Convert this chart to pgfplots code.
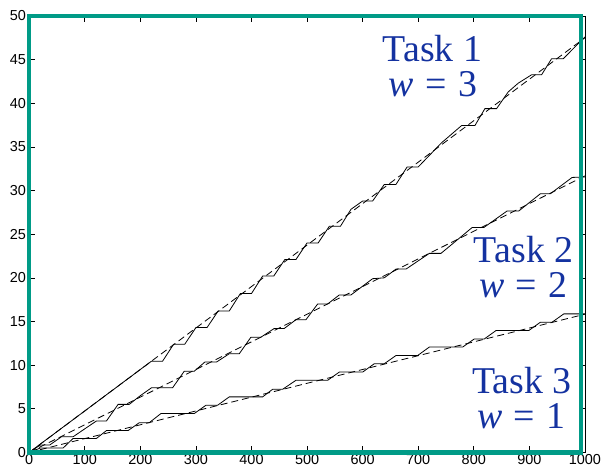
\documentclass[border=0pt]{standalone}
\usepackage{pgfplots}
\pgfplotsset{compat=1.18}
\usepackage{fontspec}
\setmainfont{Liberation Serif}
\newfontfamily\timesfont{Liberation Serif}
\newfontfamily\arial{Liberation Sans}
\definecolor{frameteal}{RGB}{0,155,135}
\definecolor{taskblue}{RGB}{20,50,160}
\begin{document}
\begin{tikzpicture}
\begin{axis}[
  width=557.7pt, height=438pt, scale only axis,
  xmin=0, xmax=1000, ymin=0, ymax=50,
  xtick={0,100,...,1000}, ytick={0,5,...,50},
  tick align=inside, major tick length=6pt,
  tick style={black, line width=0.6pt},
  axis line style={black, line width=0.6pt},
  ticklabel style={font=\arial\fontsize{14.5}{16}\selectfont},
  /pgf/number format/assume math mode=true,
  /pgf/number format/1000 sep={},
  scaled ticks=false,
  xticklabel style={inner sep=2pt},
  yticklabel style={inner sep=3pt},
  clip=false,
]
% Task 1
\addplot[black, line width=0.8pt] coordinates {
(0,0) (220,10.45) (240,10.45) (260,12.4) (280,12.4) (300,14.3) (320,14.3) (340,16.2) (360,16.2) (380,18.2) (400,18.2) (420,20.2) (440,20.2) (460,22.1) (480,22.1) (500,24.0) (520,24.0) (540,25.9) (560,25.9) (579,27.85) (600,28.8) (618,28.8) (639,30.7) (660,30.7) (680,32.7) (700,32.7) (742,35.47) (778,37.44) (802,37.44) (820,39.38) (841,39.38) (862,41.3) (880,42.3) (904,43.26) (922,43.26) (940,45.1) (961,45.1) (1000,47.6)};
\addplot[black, line width=0.8pt, dash pattern=on 7pt off 4pt] coordinates {(0,0) (1000,47.5)};
% Task 2
\addplot[black, line width=0.8pt] coordinates {
(0,0) (20,0.85) (37,0.85) (58,1.79) (79,1.79) (100,2.7) (121,3.6) (139,3.6) (160,5.5) (180,5.5) (200,6.5) (220,7.4) (258,7.4) (279,9.3) (297,9.3) (316,10.35) (337,10.35) (360,11.3) (378,11.3) (399,13.2) (417,13.2) (441,14.2) (459,14.2) (480,15.2) (498,15.2) (519,17.0) (537,17.0) (558,18.04) (579,18.04) (618,19.9) (639,20.0) (660,21.0) (678,21.0) (720,22.8) (741,22.8) (797,25.76) (818,25.76) (860,27.66) (881,27.66) (920,29.64) (938,29.64) (977,31.5) (1000,31.55)};
\addplot[black, line width=0.8pt, dash pattern=on 7pt off 4pt] coordinates {(0,0) (1000,31.67)};
% Task 3
\addplot[black, line width=0.8pt] coordinates {
(0,0) (20,0.5) (61,0.5) (79,1.6) (121,1.6) (139,2.5) (178,2.5) (198,3.4) (216,3.4) (237,4.45) (297,4.45) (318,5.4) (339,5.4) (360,6.36) (420,6.36) (438,7.23) (456,7.23) (480,8.26) (537,8.26) (558,9.2) (600,9.2) (621,10.16) (639,10.16) (660,11.1) (699,11.1) (720,12.07) (780,12.07) (801,13.0) (819,13.0) (840,13.96) (899,13.96) (920,14.92) (941,14.92) (962,15.87) (1000,15.87)};
\addplot[black, line width=0.8pt, dash pattern=on 7pt off 4pt] coordinates {(0,0) (1000,15.83)};
% labels
\node[taskblue, font=\timesfont\fontsize{38}{40}\selectfont, anchor=base, inner sep=0pt] at (axis cs:725.7,44.78) {Task 1};
\node[taskblue, font=\timesfont\fontsize{38}{40}\selectfont, anchor=base, inner sep=0pt] at (axis cs:726.5,40.79) {\textit{w}\hspace{0.3em}=\hspace{0.3em}3};
\node[taskblue, font=\timesfont\fontsize{38}{40}\selectfont, anchor=base, inner sep=0pt] at (axis cs:889.7,21.77) {Task 2};
\node[taskblue, font=\timesfont\fontsize{38}{40}\selectfont, anchor=base, inner sep=0pt] at (axis cs:888.8,17.77) {\textit{w}\hspace{0.3em}=\hspace{0.3em}2};
\node[taskblue, font=\timesfont\fontsize{38}{40}\selectfont, anchor=base, inner sep=0pt] at (axis cs:887,6.74) {Task 3};
\node[taskblue, font=\timesfont\fontsize{38}{40}\selectfont, anchor=base, inner sep=0pt] at (axis cs:885.2,2.74) {\textit{w}\hspace{0.3em}=\hspace{0.3em}1};
\end{axis}
\draw[frameteal, line width=4.5pt] (current axis.south west) rectangle ([xshift=-4pt]current axis.north east);
\path ([shift={(-29.3pt,-20pt)}]current axis.south west) rectangle ([shift={(16pt,16pt)}]current axis.north east);
\end{tikzpicture}
\end{document}
